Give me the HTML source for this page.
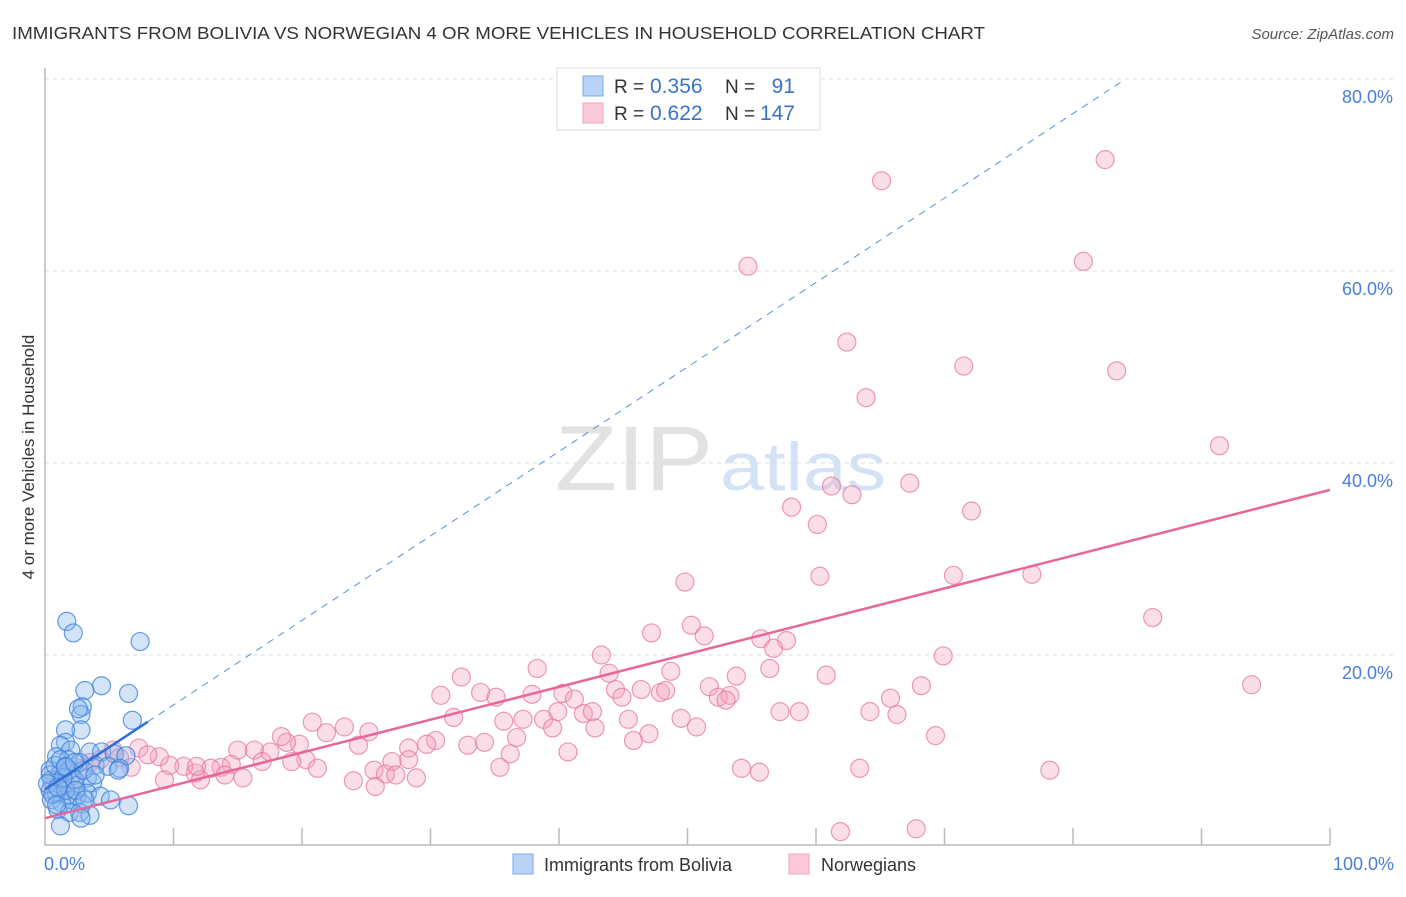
<!DOCTYPE html>
<html><head><meta charset="utf-8"><style>
body{margin:0;background:#fff;font-family:"Liberation Sans",sans-serif;}
svg text{font-family:"Liberation Sans",sans-serif;}
</style></head><body>
<svg id="chart" width="1406" height="892" xmlns="http://www.w3.org/2000/svg">
<text x="12" y="39" font-size="17.5" fill="#333" textLength="973" lengthAdjust="spacingAndGlyphs">IMMIGRANTS FROM BOLIVIA VS NORWEGIAN 4 OR MORE VEHICLES IN HOUSEHOLD CORRELATION CHART</text>
<text x="1394" y="39" font-size="15" fill="#555" font-style="italic" text-anchor="end">Source: ZipAtlas.com</text>
<g>
<text x="555" y="490" font-size="92" fill="#e2e2e2" font-family="Liberation Serif,serif" textLength="158" lengthAdjust="spacingAndGlyphs">ZIP</text>
<text x="720" y="490" font-size="68" fill="#d3e2f5" textLength="166" lengthAdjust="spacingAndGlyphs">atlas</text>
</g>
<g id="grid"></g>
<g id="axes"></g>
<g id="marks"></g>
<text transform="translate(34,457) rotate(-90)" font-size="17" fill="#333" text-anchor="middle">4 or more Vehicles in Household</text>
<g>
<rect x="557" y="68" width="263" height="62" fill="#fff" stroke="#ddd"/>
<rect x="583" y="76" width="20" height="20" fill="#b8d3f7" stroke="#7aaae8"/>
<rect x="583" y="103" width="20" height="20" fill="#fbc9d8" stroke="#eea3bb"/>
<text x="614" y="93" font-size="19" fill="#333">R =</text>
<text x="650" y="93" font-size="21" fill="#3a74c9">0.356</text>
<text x="725" y="93" font-size="19" fill="#333">N =</text>
<text x="795" y="93" font-size="21" fill="#3a74c9" text-anchor="end">91</text>
<text x="614" y="120" font-size="19" fill="#333">R =</text>
<text x="650" y="120" font-size="21" fill="#3a74c9">0.622</text>
<text x="725" y="120" font-size="19" fill="#333">N =</text>
<text x="795" y="120" font-size="21" fill="#3a74c9" text-anchor="end">147</text>
</g>
<g>
<rect x="513" y="854" width="20" height="20" fill="#b8d3f7" stroke="#7aaae8"/>
<text x="544" y="871" font-size="18" fill="#333">Immigrants from Bolivia</text>
<rect x="789" y="854" width="20" height="20" fill="#fbc9d8" stroke="#eea3bb"/>
<text x="821" y="871" font-size="18" fill="#333">Norwegians</text>
</g>
</svg>
<script>
const yTicks=[20,40,60,80];
const yTickLabels=["20.0%","40.0%","60.0%","80.0%"];
const xTicks=[10,20,30,40,50,60,70,80,90,100];
const blueX=[1.7,2.2,7.4,4.4,3.1,6.5,2.9,2.8,2.6,6.8,2.8,1.6,1.6,1.2,2.0,3.5,4.4,5.4,6.3,0.9,1.8,2.7,3.9,4.9,5.8,5.7,0.4,1.2,2.1,3.3,0.5,1.3,2.3,3.7,0.4,0.9,1.7,2.5,3.3,4.3,0.5,1.3,2.1,2.9,5.1,6.5,1.0,1.9,2.7,3.5,1.2,2.8,0.4,0.8,1.2,0.2,0.6,1.6,1.9,2.3,3.0,3.9,1.4,1.6,1.0,2.4,3.1,0.9,1.6,2.3];
const blueY=[23.5,22.3,21.4,16.8,16.3,16.0,14.6,13.8,14.4,13.2,12.2,12.2,10.9,10.6,10.1,9.9,9.9,9.7,9.5,9.4,9.1,8.8,8.5,8.4,8.2,8.0,8.0,7.7,7.4,7.2,7.0,6.7,6.4,6.7,5.9,5.6,5.3,5.3,5.6,5.3,4.9,4.6,4.9,4.5,4.9,4.3,3.9,3.6,3.6,3.3,2.2,3.0,7.5,8.5,9.1,6.6,5.5,5.9,8.0,7.0,8.0,7.5,7.2,8.4,6.2,5.9,4.9,4.4,8.3,8.8];
const pinkX=[82.5,65.1,54.7,80.8,62.4,71.5,83.4,63.9,91.4,61.2,62.8,67.3,58.1,72.1,60.1,49.8,60.3,70.7,76.8,86.2,47.2,50.3,51.3,55.7,57.7,56.7,43.3,69.9,38.3,43.9,48.7,56.4,60.8,53.8,32.4,30.8,33.9,35.1,37.9,40.3,41.2,44.4,44.9,46.4,47.9,48.3,51.7,52.4,53.3,53.0,68.2,65.8,93.9,31.8,35.7,37.2,38.8,39.5,39.9,41.9,42.6,42.8,45.4,49.5,50.7,57.2,58.7,64.2,66.3,45.8,47.0,69.3,36.7,34.2,32.9,30.4,29.7,28.3,28.3,27.0,25.6,26.5,27.3,28.9,24.0,25.7,35.4,36.2,40.7,54.2,55.6,63.4,78.2,61.9,67.8,20.8,23.3,25.2,24.4,21.9,19.8,18.8,17.5,16.3,15.0,18.4,20.3,21.2,19.2,16.9,14.5,13.7,12.9,11.7,10.8,9.7,8.9,7.3,5.3,15.4,12.1,9.3,11.8,6.7,5.8,4.3,3.5,2.7,1.9,1.2,0.8,1.6,2.3,0.4,8.0,14.0];
const pinkY=[71.6,69.4,60.5,61.0,52.6,50.1,49.6,46.8,41.8,37.6,36.7,37.9,35.4,35.0,33.6,27.6,28.2,28.3,28.4,23.9,22.3,23.1,22.0,21.7,21.5,20.7,20.0,19.9,18.6,18.1,18.3,18.6,17.9,17.8,17.7,15.8,16.1,15.6,15.9,16.0,15.4,16.4,15.6,16.4,16.1,16.3,16.7,15.6,15.8,15.3,16.8,15.5,16.9,13.5,13.1,13.3,13.3,12.4,14.1,13.9,14.1,12.4,13.3,13.4,12.5,14.1,14.1,14.1,13.8,11.1,11.8,11.6,11.4,10.9,10.6,11.1,10.7,10.3,9.1,8.9,8.0,7.6,7.5,7.2,6.9,6.3,8.3,9.7,9.9,8.2,7.8,8.2,8.0,1.6,1.9,13.0,12.5,12.0,10.6,11.9,10.7,10.9,9.9,10.1,10.1,11.5,9.1,8.2,8.9,8.9,8.6,8.3,8.2,7.7,8.4,8.5,9.4,10.3,10.1,7.2,7.0,7.0,8.4,8.3,9.3,9.1,8.8,8.2,8.0,7.5,7.0,6.5,5.9,5.9,9.6,7.5];
const blueTrend=[6.0,0.88];
const pinkTrend=[3.0,0.342];
const NS="http://www.w3.org/2000/svg";
function sx(v){return 45+v*12.85;}
function sy(v){return 847-v*9.6;}
function mk(tag,attrs,parent){const e=document.createElementNS(NS,tag);for(const k in attrs)e.setAttribute(k,attrs[k]);parent.appendChild(e);return e;}
const grid=document.getElementById('grid'),axes=document.getElementById('axes'),marks=document.getElementById('marks');
yTicks.forEach((t,i)=>{
  const l=mk('line',{x1:45,x2:1395,y1:sy(t),y2:sy(t),stroke:'#ddd','stroke-dasharray':'4,4'},grid);
  
  
  const tx=mk('text',{x:1393,y:sy(t)+24,'font-size':18,fill:'#4a7fd6','text-anchor':'end'},axes);
  tx.textContent=yTickLabels[i];
  
  
});
const ax=mk('path',{d:'M45,68 V845 H1330',fill:'none',stroke:'#bbb','stroke-width':1.5},axes);


xTicks.forEach(t=>{
  const l=mk('line',{x1:sx(t),x2:sx(t),y1:828,y2:845,stroke:'#bbb','stroke-width':1.5},axes);
  
  
});
[[0,'0.0%','start',44],[100,'100.0%','end',1394]].forEach(a=>{
  const tx=mk('text',{x:a[3],y:870,'font-size':18,fill:'#4a7fd6','text-anchor':a[2]},axes);
  tx.textContent=a[1];
  
  
});
pinkX.forEach((x,i)=>{
  const c=mk('circle',{cx:sx(x),cy:sy(pinkY[i]),r:9,fill:'rgba(244,160,188,0.35)',stroke:'rgba(230,120,158,0.75)','stroke-width':1.2},marks);
  
  
});
blueX.forEach((x,i)=>{
  const c=mk('circle',{cx:sx(x),cy:sy(blueY[i]),r:9,fill:'rgba(140,185,240,0.38)',stroke:'rgba(60,130,220,0.8)','stroke-width':1.2},marks);
  
  
});
const bd=mk('line',{x1:sx(8),y1:sy(blueTrend[0]+blueTrend[1]*8),x2:sx(84),y2:sy(blueTrend[0]+blueTrend[1]*84),stroke:'#5b8fd8','stroke-width':1,'stroke-dasharray':'7,6'},marks);


const bl=mk('line',{x1:sx(0),y1:sy(blueTrend[0]),x2:sx(8),y2:sy(blueTrend[0]+blueTrend[1]*8),stroke:'#2f6fd6','stroke-width':2.5},marks);


const pl=mk('line',{x1:sx(0),y1:sy(pinkTrend[0]),x2:sx(100),y2:sy(pinkTrend[0]+pinkTrend[1]*100),stroke:'#e8679a','stroke-width':2.5},marks);


</script>
</body></html>
